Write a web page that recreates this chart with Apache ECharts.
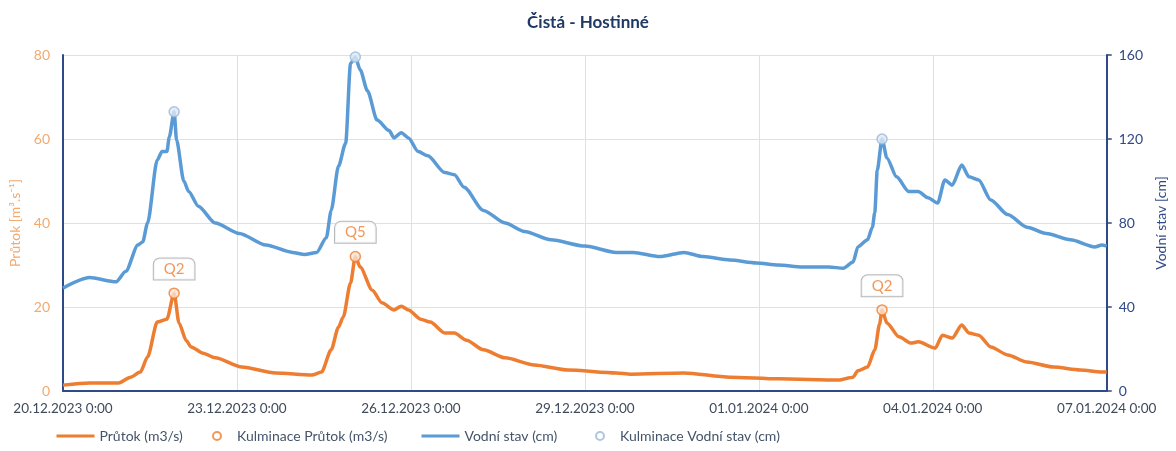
<!DOCTYPE html>
<html><head><meta charset="utf-8">
<script src="https://cdn.jsdelivr.net/npm/echarts@6/dist/echarts.min.js"></script>
<style>html,body{margin:0;padding:0;background:#fff}#c{width:1176px;height:451px}</style>
</head><body><div id="c"></div>
<script>
// x values are hours since 20.12.2023 0:00
const tickLabels = ['20.12.2023 0:00','23.12.2023 0:00','26.12.2023 0:00','29.12.2023 0:00','01.01.2024 0:00','04.01.2024 0:00','07.01.2024 0:00'];

const flowHours  = [0,11,23,28,32,35,39,43,46,48,51,53,58,63,74,88,103,107,111,114,116,119,121,123,128,132,137,140,143,148,152,158,162,167,174,183,195,209,229,235,257,276,296,321,327,329,333,336,338,339,341,346,351,354,361,364,368,372,375,379,384,391,399,410,421,430,432];
const flowValues = [1.4,1.9,1.9,3.3,4.5,8.1,16.4,17.1,23.3,16.2,12,10.5,9,7.9,5.7,4.3,3.8,4.5,9.8,15.2,17.6,25.7,32,29.5,24,21,19.3,20.2,19.3,17.1,16.4,13.8,13.8,12.1,9.8,7.9,6.2,5,4.3,4,4.3,3.3,2.9,2.6,3.3,4.8,5.7,9.8,16,19.3,16.2,12.9,11.4,11.7,10.2,13.3,12.6,15.7,13.8,13.3,10.5,8.6,6.9,5.7,5,4.5,4.5];

const levelHours  = [0,11,22,26,31,33,35,39,41,43,44,46,47,50,52,56,63,73,84,95,100,105,109,111,114,117,119,121,123,126,130,135,137,140,143,147,151,158,162,166,174,183,191,202,216,229,236,247,257,265,276,287,296,306,317,323,327,329,333,335,336,337,339,341,345,350,354,358,362,365,368,372,375,379,384,391,399,407,417,427,430,432];
const levelValues = [49,54,52,57,69.5,71,80,110,114,114,121,133,119.5,100,95,88,80,75,69.5,66,65,66,73,86,107,118,156,159,153,143,129,124,120.5,123,120.5,114,112,104,103,97,86,80,76,72,69,66,66,64,66,64,62.4,61,60,59,59,58.5,61.4,68.6,72,78,85,105,120,111,102,95,95,92,89.5,100.5,98,107.6,102,100.5,91,84,78,75,72,68.6,69.5,69];

const peakHours  = [46,121,339];
const peakFlow   = [23.3,32,19.3];
const peakLevel  = [133,159,120];
const peakLabels = ['Q2','Q5','Q2'];

const seriesNames = ['Průtok (m3/s)','Kulminace Průtok (m3/s)','Vodní stav (cm)','Kulminace Vodní stav (cm)'];

const FONT = 'Lato, "Open Sans", sans-serif';
const ORANGE = '#ED7D31', BLUE = '#5B9BD5', NAVY = '#2F4A86', GRIDC = '#CDE7F0';

const zip = (a,b) => a.map((x,i)=>[x,b[i]]);

const legendBase = {bottom:3, itemHeight:8, textStyle:{fontFamily:FONT, fontSize:14, color:'#44546A'}};
const legends = [
  Object.assign({}, legendBase, {left:50, itemWidth:38, data:[{name:seriesNames[0], itemStyle:{opacity:0}, lineStyle:{width:3}}]}),
  Object.assign({}, legendBase, {left:207, itemWidth:30, data:[{name:seriesNames[1], itemStyle:{color:'#fff'}}]}),
  Object.assign({}, legendBase, {left:415, itemWidth:38, data:[{name:seriesNames[2], itemStyle:{opacity:0}, lineStyle:{width:3}}]}),
  Object.assign({}, legendBase, {left:590, itemWidth:30, data:[{name:seriesNames[3], itemStyle:{color:'#fff'}}]})
];

const chart = echarts.init(document.getElementById('c'), null, {renderer:'canvas'});
chart.setOption({
  animation:false,
  backgroundColor:'#fff',
  textStyle:{fontFamily:FONT},
  title:{text:'Čistá - Hostinné', left:'center', top:9,
    textStyle:{fontFamily:FONT, fontSize:17, fontWeight:'bold', color:'#1F3864'}},
  grid:{left:63, right:63, top:55, bottom:60, containLabel:false},
  legend:legends,
  xAxis:{
    type:'value', min:0, max:432, interval:72,
    axisLine:{show:true, lineStyle:{color:NAVY, width:2}},
    axisTick:{show:false},
    splitLine:{show:true, lineStyle:{color:GRIDC, width:1}},
    axisLabel:{margin:11, fontSize:13.5, color:'#3F4A5A', fontFamily:FONT,
      formatter:v=>tickLabels[Math.round(v/72)] || ''}
  },
  yAxis:[
    {type:'value', min:0, max:80, interval:20, position:'left',
     name:'Průtok [m³.s⁻¹]', nameLocation:'middle', nameGap:35, nameRotate:90,
     nameTextStyle:{color:'#F2AA6E', fontSize:14, fontFamily:FONT},
     axisLine:{show:true, lineStyle:{color:NAVY, width:2}},
     axisTick:{show:false},
     splitLine:{show:true, lineStyle:{color:GRIDC, width:1}},
     axisLabel:{margin:13, fontSize:14, color:'#F2AA6E', fontFamily:FONT}},
    {type:'value', min:0, max:160, interval:40, position:'right',
     name:'Vodní stav [cm]', nameLocation:'middle', nameGap:44, nameRotate:90,
     nameTextStyle:{color:'#2F4A86', fontSize:14, fontFamily:FONT},
     axisLine:{show:true, lineStyle:{color:NAVY, width:2}},
     axisTick:{show:true, length:5, lineStyle:{color:NAVY, width:1.5}},
     splitLine:{show:false},
     axisLabel:{margin:12, fontSize:14, color:'#2F4A86', fontFamily:FONT}}
  ],
  series:[
    {name:seriesNames[0], type:'line', yAxisIndex:0, symbol:'none', showSymbol:false,
     smooth:0.25, smoothMonotone:'x',
     data:zip(flowHours, flowValues), lineStyle:{color:ORANGE, width:3.5}, itemStyle:{color:ORANGE}, z:3},
    {name:seriesNames[1], type:'scatter', yAxisIndex:0, symbol:'circle', symbolSize:10,
     data:peakHours.map((h,i)=>({value:[h,peakFlow[i]], name:peakLabels[i]})),
     itemStyle:{color:'#FBE3D3', borderColor:ORANGE, borderWidth:1.5}, z:5,
     label:{show:true, position:'top', distance:8, formatter:p=>p.name,
       color:ORANGE, fontSize:15, fontFamily:FONT, backgroundColor:'#fff',
       borderColor:'#A6A6A6', borderWidth:1, borderRadius:[6,6,0,0], padding:[3,10,3,10]}},
    {name:seriesNames[2], type:'line', yAxisIndex:1, symbol:'none', showSymbol:false,
     smooth:0.25, smoothMonotone:'x',
     data:zip(levelHours, levelValues), lineStyle:{color:BLUE, width:3.5}, itemStyle:{color:BLUE}, z:3},
    {name:seriesNames[3], type:'scatter', yAxisIndex:1, symbol:'circle', symbolSize:10,
     data:peakHours.map((h,i)=>[h,peakLevel[i]]),
     itemStyle:{color:'#DCE9F6', borderColor:'#9DB8D6', borderWidth:1.5}, z:5}
  ]
});
</script></body></html>
